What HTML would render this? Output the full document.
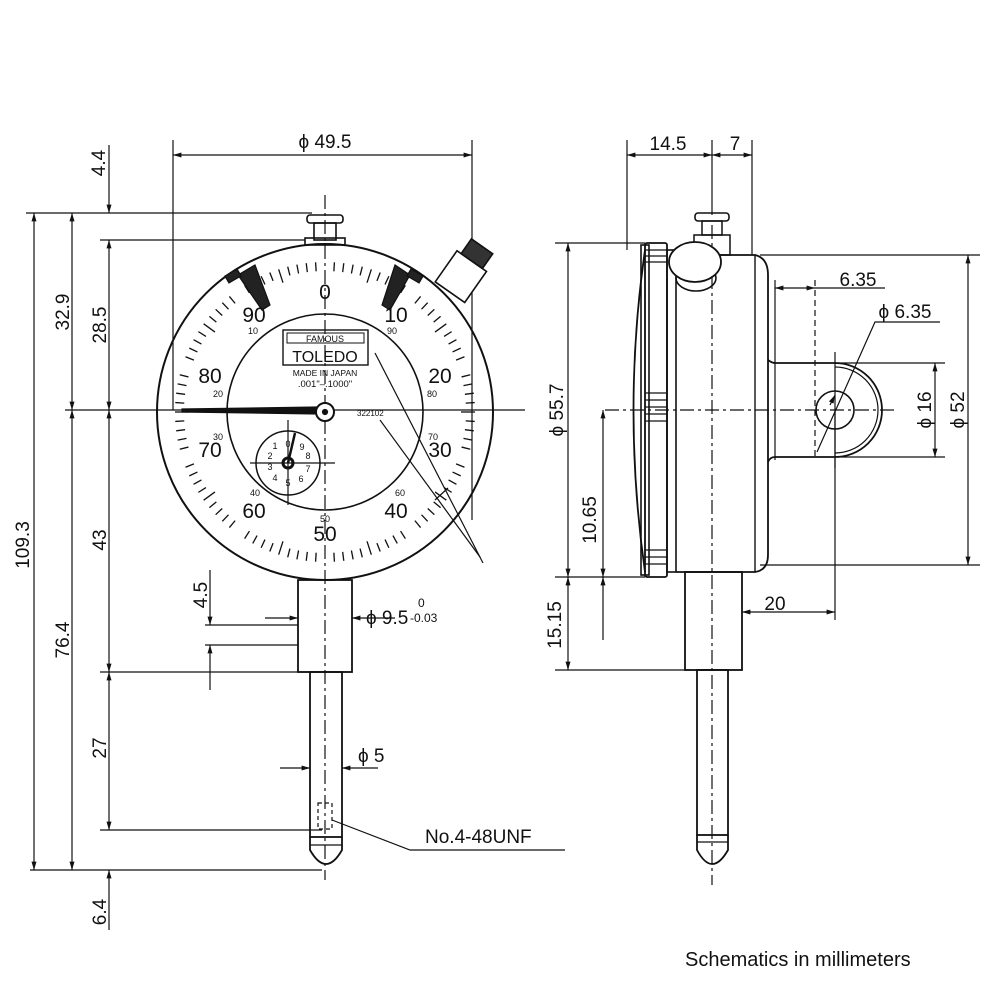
<!DOCTYPE html>
<html><head><meta charset="utf-8"><style>
html,body{margin:0;padding:0;background:#fff;}
svg{display:block;}
text{font-family:"Liberation Sans",sans-serif;fill:#111;}
</style></head><body>
<svg id="s" width="1000" height="1000" viewBox="0 0 1000 1000" xmlns="http://www.w3.org/2000/svg">
<defs>
<marker id="a" viewBox="0 0 10 10" refX="10" refY="5" markerWidth="9" markerHeight="7" orient="auto-start-reverse"><path d="M0,2 L10,5 L0,8 z" fill="#111"/></marker>
</defs>
<g stroke="#111" fill="none" stroke-width="1.2">
<line x1="26" y1="213" x2="312" y2="213"/>
<line x1="100" y1="240" x2="305" y2="240"/>
<line x1="100" y1="672" x2="310" y2="672"/>
<line x1="100" y1="830" x2="322" y2="830"/>
<line x1="30" y1="870" x2="322" y2="870"/>
<line x1="205" y1="625" x2="298" y2="625"/>
<line x1="205" y1="645" x2="298" y2="645"/>
<line x1="34" y1="213" x2="34" y2="870" marker-start="url(#a)" marker-end="url(#a)"/>
<line x1="72" y1="213" x2="72" y2="410" marker-start="url(#a)" marker-end="url(#a)"/>
<line x1="72" y1="410" x2="72" y2="870" marker-start="url(#a)" marker-end="url(#a)"/>
<line x1="109" y1="145" x2="109" y2="213" marker-end="url(#a)"/>
<line x1="109" y1="240" x2="109" y2="410" marker-start="url(#a)" marker-end="url(#a)"/>
<line x1="109" y1="410" x2="109" y2="672" marker-start="url(#a)" marker-end="url(#a)"/>
<line x1="109" y1="672" x2="109" y2="830" marker-start="url(#a)" marker-end="url(#a)"/>
<line x1="109" y1="930" x2="109" y2="870" marker-end="url(#a)"/>
<line x1="210" y1="570" x2="210" y2="625" marker-end="url(#a)"/>
<line x1="210" y1="690" x2="210" y2="645" marker-end="url(#a)"/>
<line x1="173" y1="140" x2="173" y2="410"/>
<line x1="472" y1="140" x2="472" y2="520"/>
<line x1="173" y1="155" x2="472" y2="155" marker-start="url(#a)" marker-end="url(#a)"/>
<line x1="65" y1="410" x2="525" y2="410"/>
<line x1="325" y1="195" x2="325" y2="880" stroke-dasharray="14,4,3,4"/>
<circle cx="325" cy="412" r="168" stroke-width="2"/>
<circle cx="325" cy="412" r="98" stroke-width="1.6"/>
<g id="ticks"></g>
<rect x="307" y="215" width="36" height="8" rx="3" stroke-width="1.6"/>
<rect x="314" y="223" width="22" height="17" stroke-width="1.6"/>
<rect x="305" y="238" width="40" height="7" stroke-width="1.6"/>
<g transform="rotate(35 462 275)" stroke-width="1.6">
<rect x="444" y="258" width="36" height="38" fill="#fff"/>
<rect x="449" y="240" width="26" height="18" fill="#333"/>
</g>
<path d="M238,275 L255,265 L270,305 L262,310 Z" fill="#222"/>
<path d="M410,275 L395,265 L382,305 L390,310 Z" fill="#222"/>
<rect x="226" y="272" width="14" height="8" fill="#222" transform="rotate(-30 233 276)"/>
<rect x="408" y="272" width="14" height="8" fill="#222" transform="rotate(30 415 276)"/>
<path d="M182,409 L318,407 L318,414 L182,412 Z" fill="#111"/>
<circle cx="325" cy="412" r="9" stroke-width="2" fill="#fff"/>
<circle cx="325" cy="412" r="2.5" fill="#111"/>
<rect x="283" y="330" width="85" height="35" stroke-width="1.4"/>
<rect x="287" y="333" width="77" height="10" stroke-width="1"/>
<circle cx="288" cy="463" r="32" stroke-width="1.5"/>
<line x1="250" y1="463" x2="335" y2="463"/>
<line x1="288" y1="420" x2="288" y2="505"/>
<circle cx="288" cy="463" r="5" stroke-width="3"/>
<line x1="288" y1="463" x2="295" y2="433" stroke-width="2.5"/>
<line x1="375" y1="353" x2="483" y2="563"/>
<line x1="380" y1="420" x2="480" y2="557"/>
<line x1="435" y1="500" x2="448" y2="488"/>
<rect x="298" y="580" width="54" height="92" stroke-width="1.8"/>
<rect x="310" y="672" width="32" height="165" stroke-width="1.8"/>
<path d="M310,837 L310,850 Q326,878 342,850 L342,837" stroke-width="1.8"/>
<line x1="310" y1="845" x2="342" y2="845"/>
<rect x="318" y="803" width="14" height="26" stroke-dasharray="4,3"/>
<line x1="395" y1="618" x2="352" y2="618" marker-end="url(#a)"/>
<line x1="265" y1="618" x2="298" y2="618" marker-end="url(#a)"/>
<line x1="280" y1="768" x2="310" y2="768" marker-end="url(#a)"/>
<line x1="378" y1="768" x2="342" y2="768" marker-end="url(#a)"/>
<polyline points="332,820 410,850 565,850"/>

<line x1="627" y1="140" x2="627" y2="250"/>
<line x1="712" y1="140" x2="712" y2="215"/>
<line x1="752" y1="140" x2="752" y2="255"/>
<line x1="627" y1="155" x2="712" y2="155" marker-start="url(#a)" marker-end="url(#a)"/>
<line x1="712" y1="155" x2="752" y2="155" marker-start="url(#a)" marker-end="url(#a)"/>
<line x1="555" y1="243" x2="645" y2="243"/>
<line x1="555" y1="577" x2="645" y2="577"/>
<line x1="568" y1="243" x2="568" y2="577" marker-start="url(#a)" marker-end="url(#a)"/>
<line x1="555" y1="670" x2="690" y2="670"/>
<line x1="568" y1="577" x2="568" y2="670" marker-start="url(#a)" marker-end="url(#a)"/>
<line x1="603" y1="410" x2="603" y2="577" marker-start="url(#a)" marker-end="url(#a)"/>
<line x1="603" y1="577" x2="603" y2="640" marker-start="url(#a)"/>
<line x1="760" y1="255" x2="980" y2="255"/>
<line x1="760" y1="565" x2="980" y2="565"/>
<line x1="968" y1="255" x2="968" y2="565" marker-start="url(#a)" marker-end="url(#a)"/>
<line x1="835" y1="363" x2="945" y2="363"/>
<line x1="835" y1="457" x2="945" y2="457"/>
<line x1="935" y1="363" x2="935" y2="457" marker-start="url(#a)" marker-end="url(#a)"/>
<line x1="775" y1="280" x2="775" y2="460"/>
<line x1="815" y1="280" x2="815" y2="460" stroke-dasharray="6,4"/>
<line x1="775" y1="288" x2="815" y2="288" marker-start="url(#a)" marker-end="url(#a)"/>
<line x1="815" y1="288" x2="885" y2="288"/>
<polyline points="940,322 875,322 817,452"/>
<line x1="835" y1="395" x2="830" y2="405" marker-start="url(#a)"/>
<line x1="835" y1="410" x2="835" y2="620"/>
<line x1="742" y1="612" x2="835" y2="612" marker-start="url(#a)" marker-end="url(#a)"/>
<line x1="605" y1="410" x2="895" y2="410" stroke-dasharray="14,4,3,4"/>
<line x1="712" y1="225" x2="712" y2="885" stroke-dasharray="14,4,3,4"/>
<line x1="835" y1="352" x2="835" y2="468"/>
<path d="M645,250 Q622,410 645,572" stroke-width="1.8"/>
<rect x="641" y="245" width="8" height="330" stroke-width="1.6"/>
<rect x="645" y="243" width="22" height="334" rx="2" stroke-width="1.8"/>
<g stroke-width="1.3">
<line x1="645" y1="250" x2="667" y2="250"/><line x1="645" y1="256" x2="667" y2="256"/><line x1="645" y1="262" x2="667" y2="262"/>
<line x1="645" y1="393" x2="667" y2="393"/><line x1="645" y1="400" x2="667" y2="400"/><line x1="645" y1="407" x2="667" y2="407"/><line x1="645" y1="414" x2="667" y2="414"/><line x1="645" y1="421" x2="667" y2="421"/>
<line x1="645" y1="550" x2="667" y2="550"/><line x1="645" y1="557" x2="667" y2="557"/><line x1="645" y1="564" x2="667" y2="564"/>
</g>
<rect x="667" y="250" width="9" height="322" stroke-width="1.6"/>
<path d="M676,255 L755,255 Q768,258 768,275 L768,555 Q768,570 755,572 L676,572" stroke-width="1.8"/>
<line x1="755" y1="255" x2="755" y2="572" stroke-width="1.4"/>
<rect x="695" y="213" width="34" height="8" rx="3" stroke-width="1.6"/>
<rect x="702" y="221" width="20" height="14" stroke-width="1.5"/>
<rect x="694" y="235" width="36" height="20" stroke-width="1.5"/>
<ellipse cx="696" cy="278" rx="20" ry="13" stroke-width="1.6"/>
<ellipse cx="695" cy="262" rx="26" ry="20" fill="#fff" stroke-width="1.8"/>
<path d="M768,360 Q772,363 775,363 L835,363 A47,47 0 0 1 835,457 L775,457 Q770,457 768,462" stroke-width="1.8"/>
<path d="M835,367 A43,43 0 0 1 835,453" stroke-width="1.2"/>
<circle cx="835" cy="410" r="19" stroke-width="1.6"/>
<rect x="685" y="572" width="57" height="98" stroke-width="1.8"/>
<rect x="697" y="670" width="31" height="165" stroke-width="1.8"/>
<path d="M697,835 L697,850 Q712,878 728,850 L728,835" stroke-width="1.8"/>
<line x1="697" y1="842" x2="728" y2="842"/>
</g>
<g font-size="19">
<text x="98" y="163" transform="rotate(-90 98 163)" text-anchor="middle" dy="7">4.4</text>
<text x="22" y="545" transform="rotate(-90 22 545)" text-anchor="middle" dy="7">109.3</text>
<text x="62" y="312" transform="rotate(-90 62 312)" text-anchor="middle" dy="7">32.9</text>
<text x="62" y="640" transform="rotate(-90 62 640)" text-anchor="middle" dy="7">76.4</text>
<text x="99" y="325" transform="rotate(-90 99 325)" text-anchor="middle" dy="7">28.5</text>
<text x="99" y="540" transform="rotate(-90 99 540)" text-anchor="middle" dy="7">43</text>
<text x="99" y="748" transform="rotate(-90 99 748)" text-anchor="middle" dy="7">27</text>
<text x="99" y="912" transform="rotate(-90 99 912)" text-anchor="middle" dy="7">6.4</text>
<text x="200" y="595" transform="rotate(-90 200 595)" text-anchor="middle" dy="7">4.5</text>
<text x="325" y="148" text-anchor="middle">ϕ 49.5</text>
<text x="366" y="624">ϕ 9.5</text>
<text x="418" y="607" font-size="12">0</text>
<text x="410" y="622" font-size="12">-0.03</text>
<text x="358" y="762">ϕ 5</text>
<text x="425" y="843">No.4-48UNF</text>
<text x="668" y="150" text-anchor="middle">14.5</text>
<text x="735" y="150" text-anchor="middle">7</text>
<text x="557" y="410" transform="rotate(-90 557 410)" text-anchor="middle" dy="6">ϕ 55.7</text>
<text x="590" y="520" transform="rotate(-90 590 520)" text-anchor="middle" dy="6">10.65</text>
<text x="555" y="625" transform="rotate(-90 555 625)" text-anchor="middle" dy="6">15.15</text>
<text x="958" y="410" transform="rotate(-90 958 410)" text-anchor="middle" dy="6">ϕ 52</text>
<text x="925" y="410" transform="rotate(-90 925 410)" text-anchor="middle" dy="6">ϕ 16</text>
<text x="858" y="286" text-anchor="middle">6.35</text>
<text x="905" y="318" text-anchor="middle">ϕ 6.35</text>
<text x="775" y="610" text-anchor="middle">20</text>
</g>
<g font-size="21" text-anchor="middle">
<text x="325" y="299">0</text><text x="396" y="322">10</text><text x="440" y="383">20</text>
<text x="440" y="457">30</text><text x="396" y="518">40</text><text x="325" y="541">50</text>
<text x="254" y="518">60</text><text x="210" y="457">70</text><text x="210" y="383">80</text><text x="254" y="322">90</text>
</g>
<g font-size="9" text-anchor="middle">
<text x="253" y="334">10</text><text x="392" y="334">90</text><text x="218" y="397">20</text><text x="432" y="397">80</text>
<text x="218" y="440">30</text><text x="433" y="440">70</text><text x="255" y="496">40</text><text x="400" y="496">60</text><text x="325" y="522">50</text>
</g>
<text x="325" y="342" font-size="9" text-anchor="middle">FAMOUS</text>
<text x="325" y="362" font-size="16" text-anchor="middle">TOLEDO</text>
<text x="325" y="376" font-size="8.5" text-anchor="middle">MADE IN JAPAN</text>
<text x="325" y="387" font-size="9.5" text-anchor="middle">.001"–.1000"</text>
<text x="357" y="416" font-size="8">322102</text>
<g font-size="9" text-anchor="middle">
<text x="288" y="447">0</text><text x="302" y="450">9</text><text x="308" y="459">8</text><text x="308" y="472">7</text><text x="301" y="482">6</text>
<text x="288" y="486">5</text><text x="275" y="481">4</text><text x="270" y="470">3</text><text x="270" y="459">2</text><text x="275" y="449">1</text>
</g>
<text x="685" y="966" font-size="20">Schematics in millimeters</text>
</svg>
<script>
var g=document.getElementById('ticks'),h='';
for(var i=0;i<100;i++){var t=i*Math.PI/50,s=Math.sin(t),c=Math.cos(t);
var r1=150,r2=(i%5==0)?136:141;
if(i%10==0) continue;
h+='<line x1="'+(325+r1*s)+'" y1="'+(412-r1*c)+'" x2="'+(325+r2*s)+'" y2="'+(412-r2*c)+'" stroke-width="1.3"/>';}
g.innerHTML=h;
</script>
</body></html>
